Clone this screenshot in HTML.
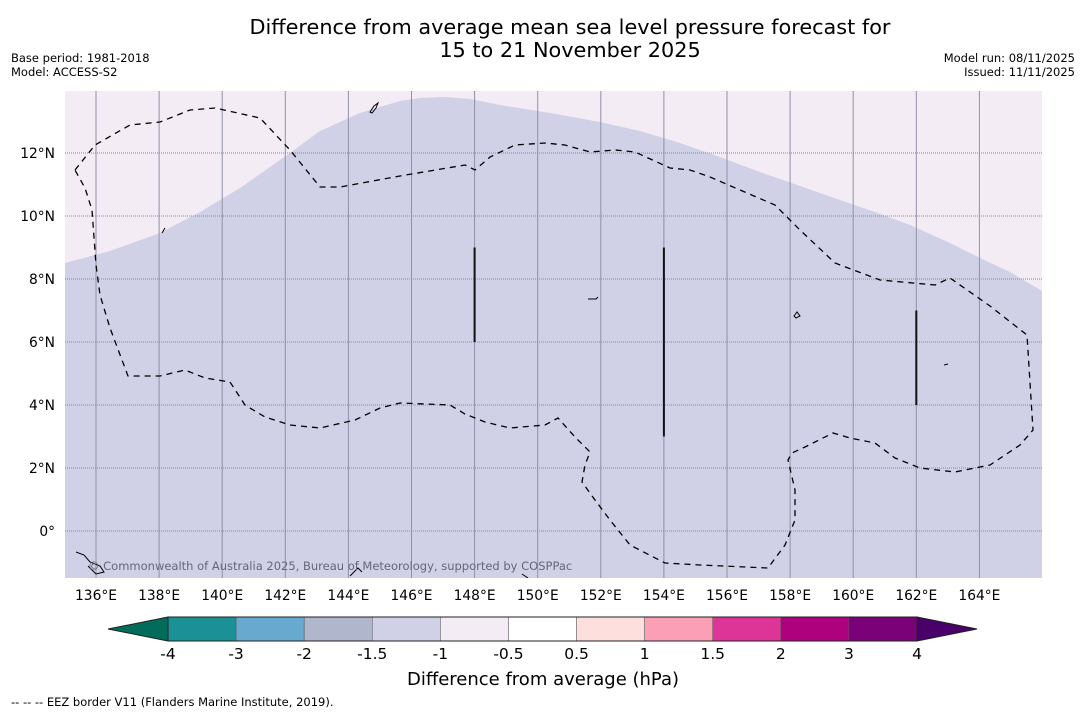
<!DOCTYPE html>
<html><head><meta charset="utf-8">
<style>
body{margin:0;background:#fff;font-family:"DejaVu Sans","Liberation Sans",sans-serif;}
svg{display:block}
</style></head>
<body>
<svg id="chart" width="1085" height="713" xmlns="http://www.w3.org/2000/svg">
<rect width="1085" height="713" fill="#fff"/>
<text x="570" y="34" font-size="20.8" text-anchor="middle" fill="#000">Difference from average mean sea level pressure forecast for</text>
<text x="570" y="57" font-size="20.8" text-anchor="middle" fill="#000">15 to 21 November 2025</text>
<text x="11" y="62" font-size="11.5">Base period: 1981-2018</text>
<text x="11" y="76" font-size="11.5">Model: ACCESS-S2</text>
<text x="1075" y="62" font-size="11.5" text-anchor="end">Model run: 08/11/2025</text>
<text x="1075" y="76" font-size="11.5" text-anchor="end">Issued: 11/11/2025</text>
<defs><clipPath id="mapclip"><rect x="65" y="91" width="977" height="487"/></clipPath></defs>
<g id="map" clip-path="url(#mapclip)">
<rect x="65" y="91" width="977" height="487" fill="#d0d1e6"/>
<path d="M65,91 L65,263 L110,251 L160,233 L200,212 L240,188 L270,167 L290,153 L320,131 L360,113 L400,101 L420,98 L445,97 L470,99 L500,105 L550,113 L600,122 L640,131 L680,143 L720,157 L760,172 L800,186 L840,200 L875,212 L910,225 L950,243 L980,258 L1010,272 L1042,291 L1042,91 Z" fill="#f3ecf5"/>
<g id="grid"></g>
<path d="M75,170 L95,145 L130,125 L160,122 L190,110 L215,108 L260,118 L290,150 L320,187 L340,187 L400,176 L465,165 L475,170 L490,157 L515,145 L545,143 L565,145 L590,152 L615,150 L635,152 L670,168 L690,170 L710,177 L740,190 L775,205 L800,230 L835,263 L880,280 L935,285 L950,278 L990,306 L1027,335 L1033,430 L1020,445 L990,465 L955,472 L920,468 L895,458 L875,443 L850,438 L833,433 L805,447 L792,453 L788,460 L795,490 L795,520 L785,545 L768,568 L700,565 L665,563 L630,545 L610,520 L595,500 L582,482 L585,465 L590,452 L575,437 L558,418 L545,425 L510,428 L485,422 L465,414 L450,405 L400,403 L380,408 L355,420 L320,428 L290,425 L265,417 L245,405 L230,382 L205,378 L185,370 L160,376 L128,376 L110,328 L100,295 L96,265 L92,210 L85,188 Z" fill="none" stroke="#000" stroke-width="1.3" stroke-dasharray="6,5"/>
<g id="ridges"></g>
<g fill="none" stroke="#000" stroke-width="1">
<path d="M370,112 L374,106 L378,103 L376,108 L372,113 Z"/>
<path d="M162,233 L165,228"/>
<path d="M588,299 L596,299 L598,297"/>
<path d="M794,316 L797,312 L800,316 L796,318 Z"/>
<path d="M944,365 L948,364"/>
<path d="M76,552 L84,555 L90,562 L100,566 L104,572 L96,574 L88,566"/>
<path d="M522,574 L528,578"/>
<path d="M350,576 L358,568 L362,572"/>
</g>
<text x="88" y="570" font-size="11.5" fill="#666677">© Commonwealth of Australia 2025, Bureau of Meteorology, supported by COSPPac</text>
</g>
<g id="axes"></g>
<g id="colorbar"></g>
<text x="543" y="685" font-size="18" text-anchor="middle">Difference from average (hPa)</text>
<text x="11" y="706" font-size="11.5">--  --  -- EEZ border V11 (Flanders Marine Institute, 2019).</text>
</svg>
<script>
const lonTicks=[136,138,140,142,144,146,148,150,152,154,156,158,160,162,164];
const latTicks=[0,2,4,6,8,10,12];
const cbLevels=["-4","-3","-2","-1.5","-1","-0.5","0.5","1","1.5","2","3","4"];
const cbColors=["#1b9095","#67a9cf","#b0b6cb","#d0d1e6","#f3ecf5","#ffffff","#fde0dd","#fa9fb5","#dd3497","#ae017e","#7a0177"];
const ridgeLon=[148,154,162];
const ridgeLat0=[6,3,4];
const ridgeLat1=[9,9,7];
const NS="http://www.w3.org/2000/svg";
const xs=lon=>96+(lon-136)*31.55;
const ys=lat=>531-lat*31.5;
function mk(tag,attrs,parent){const e=document.createElementNS(NS,tag);for(const k in attrs)e.setAttribute(k,attrs[k]);parent.appendChild(e);return e;}
const grid=document.getElementById('grid'),axes=document.getElementById('axes');
lonTicks.forEach(l=>{
 const g=mk('line',{x1:xs(l),x2:xs(l),y1:91,y2:578,stroke:'#9090a8','stroke-width':1},grid);
 
 
 const t=mk('text',{x:xs(l),y:600,'font-size':13.8,'text-anchor':'middle'},axes);
 t.textContent=l+'°E';
 
 
});
latTicks.forEach(l=>{
 const g=mk('line',{x1:65,x2:1042,y1:ys(l),y2:ys(l),stroke:'#8888a0','stroke-width':1,'stroke-dasharray':'1,1'},grid);
 
 
 const t=mk('text',{x:55,y:ys(l)+5,'font-size':13.8,'text-anchor':'end'},axes);
 t.textContent=l===0?'0°':l+'°N';
 
 
});
const ridges=document.getElementById('ridges');
ridgeLon.forEach((l,i)=>{
 const r=mk('line',{x1:xs(l),x2:xs(l),y1:ys(ridgeLat1[i]),y2:ys(ridgeLat0[i]),stroke:'#111','stroke-width':2},ridges);
 
 
});
const cb=document.getElementById('colorbar');
const x0=168,x1=917,y0=617,y1=641,n=cbColors.length,w=(x1-x0)/n;
const lt=mk('polygon',{points:`108,629 ${x0},${y0} ${x0},${y1}`,fill:'#016c59',stroke:'#222','stroke-width':1},cb);


const rt=mk('polygon',{points:`977,629 ${x1},${y0} ${x1},${y1}`,fill:'#49006a',stroke:'#222','stroke-width':1},cb);


cbColors.forEach((c,i)=>{
 const r=mk('rect',{x:x0+i*w,y:y0,width:w,height:y1-y0,fill:c,stroke:'#555','stroke-width':0.5},cb);
 
 
});
mk('rect',{x:x0,y:y0,width:x1-x0,height:y1-y0,fill:'none',stroke:'#222','stroke-width':1},cb);
cbLevels.forEach((v,i)=>{
 const t=mk('text',{x:x0+i*w,y:659,'font-size':15.5,'text-anchor':'middle'},cb);
 t.textContent=v;
 
 
});
</script>
</body></html>
